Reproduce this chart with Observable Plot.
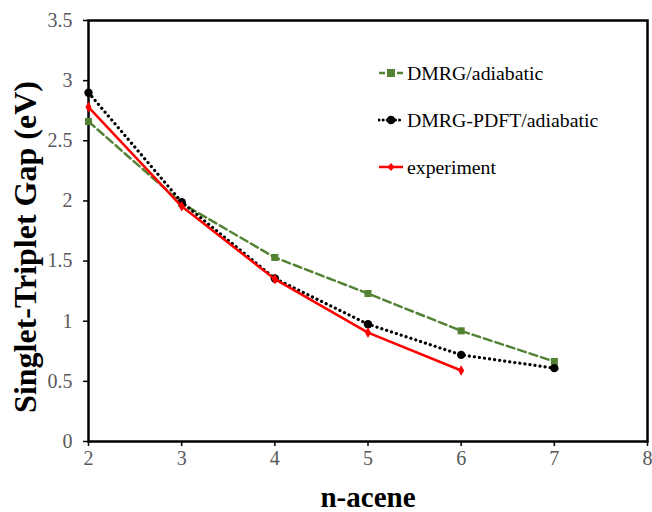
<!DOCTYPE html>
<html>
<head>
<meta charset="utf-8">
<script src="https://cdn.jsdelivr.net/npm/d3@7"></script>
<script src="https://cdn.jsdelivr.net/npm/@observablehq/plot@0.6"></script>
<style>
  body { margin: 0; background: #fff; }
  #wrap { position: relative; width: 652px; height: 512px; overflow: hidden; }
  #legend { position: absolute; left: 0; top: 0; }
  .item { position: absolute; left: 378px; height: 26px; display: flex; align-items: center; font-family: 'Liberation Serif', 'Times New Roman', serif; font-size: 19.8px; color: #000; white-space: nowrap; }
  .item svg { margin-right: 3px; }
</style>
</head>
<body>
<div id="wrap"></div>
<script>
// ---- data ----
const acenes = [2, 3, 4, 5, 6, 7];
const dmrgAdiabatic = [2.66, 1.98, 1.53, 1.23, 0.92, 0.665];
const dmrgPdftAdiabatic = [2.90, 1.99, 1.355, 0.975, 0.72, 0.61];
const expAcenes = [2, 3, 4, 5, 6];
const experiment = [2.78, 1.955, 1.35, 0.905, 0.59];

const seriesNames = ["DMRG/adiabatic", "DMRG-PDFT/adiabatic", "experiment"];
const xTicks = [2, 3, 4, 5, 6, 7, 8];
const yTicks = [0, 0.5, 1, 1.5, 2, 2.5, 3, 3.5];
const xTitle = "n-acene";
const yTitle = "Singlet-Triplet Gap (eV)";

// ---- tables ----
const green = acenes.map((x, i) => ({x, y: dmrgAdiabatic[i]}));
const black = acenes.map((x, i) => ({x, y: dmrgPdftAdiabatic[i]}));
const red = expAcenes.map((x, i) => ({x, y: experiment[i]}));

const GREEN = "#548235", RED = "#ff0000", BLACK = "#000000";
const serif = "Liberation Serif";

const chart = Plot.plot({
  width: 652,
  height: 512,
  marginLeft: 88,
  marginRight: 5,
  marginTop: 20,
  marginBottom: 71,
  style: {fontFamily: serif, background: "white", overflow: "visible"},
  x: {domain: [2, 8]},
  y: {domain: [0, 3.5]},
  marks: [
    Plot.axisX({ticks: xTicks, tickSize: 5, tickPadding: 4, fontSize: 20, fontFamily: serif, fill: "#595959", stroke: "black", strokeWidth: 1.5, label: null, tickFormat: d => String(d)}),
    Plot.axisY({ticks: yTicks, tickSize: 5, tickPadding: 11, fontSize: 20, fontFamily: serif, fill: "#595959", stroke: "black", strokeWidth: 1.5, label: null, tickFormat: d => String(d)}),
    Plot.frame({stroke: "black", strokeWidth: 2.5}),
    Plot.line(green, {x: "x", y: "y", stroke: GREEN, strokeWidth: 2.5, strokeDasharray: "8,4"}),
    Plot.dot(green, {x: "x", y: "y", symbol: "square", r: 4, fill: GREEN, stroke: "none"}),
    Plot.line(black, {x: "x", y: "y", stroke: BLACK, strokeWidth: 3.2, strokeDasharray: "0.1,5", strokeLinecap: "round"}),
    Plot.dot(black, {x: "x", y: "y", symbol: "circle", r: 4.2, fill: BLACK, stroke: "none"}),
    Plot.line(red, {x: "x", y: "y", stroke: RED, strokeWidth: 2.5}),
    Plot.dot(red, {x: "x", y: "y", symbol: "diamond", r: 3.2, fill: RED, stroke: "none"}),
    Plot.text([xTitle], {frameAnchor: "bottom", textAnchor: "middle", lineAnchor: "middle", dy: 56, fontSize: 29, fontWeight: "bold", fill: "black", fontFamily: serif}),
    Plot.text([yTitle], {frameAnchor: "left", textAnchor: "middle", lineAnchor: "middle", dx: -63, dy: 16, rotate: -90, fontSize: 32, fontWeight: "bold", fill: "black", fontFamily: serif})
  ]
});

const wrap = document.getElementById("wrap");
wrap.appendChild(chart);

// ---- legend (HTML overlay) ----
const legendStyles = [
  {color: GREEN, dash: "6,3", width: 2.5, cap: "butt", marker: "square"},
  {color: BLACK, dash: "0.1,4", width: 3, cap: "round", marker: "circle"},
  {color: RED, dash: null, width: 2.5, cap: "butt", marker: "diamond"}
];
const legendTops = [60, 107, 154];
const legend = document.createElement("div");
legend.id = "legend";
seriesNames.forEach((name, i) => {
  const s = legendStyles[i];
  const item = document.createElement("div");
  item.className = "item";
  item.style.top = legendTops[i] + "px";
  let marker;
  if (s.marker === "square") marker = `<rect x="9" y="9" width="8" height="8" fill="${s.color}"/>`;
  else if (s.marker === "circle") marker = `<circle cx="13" cy="13" r="4.3" fill="${s.color}"/>`;
  else marker = `<path d="M13,9 L16.5,13 L13,17 L9.5,13Z" fill="${s.color}"/>`;
  item.innerHTML = `<svg width="26" height="26"><line x1="1" y1="13" x2="25" y2="13" stroke="${s.color}" stroke-width="${s.width}" ${s.dash ? `stroke-dasharray="${s.dash}"` : ""} stroke-linecap="${s.cap}"/>${marker}</svg><span>${name}</span>`;
  legend.appendChild(item);
});
wrap.appendChild(legend);
</script>
</body>
</html>
